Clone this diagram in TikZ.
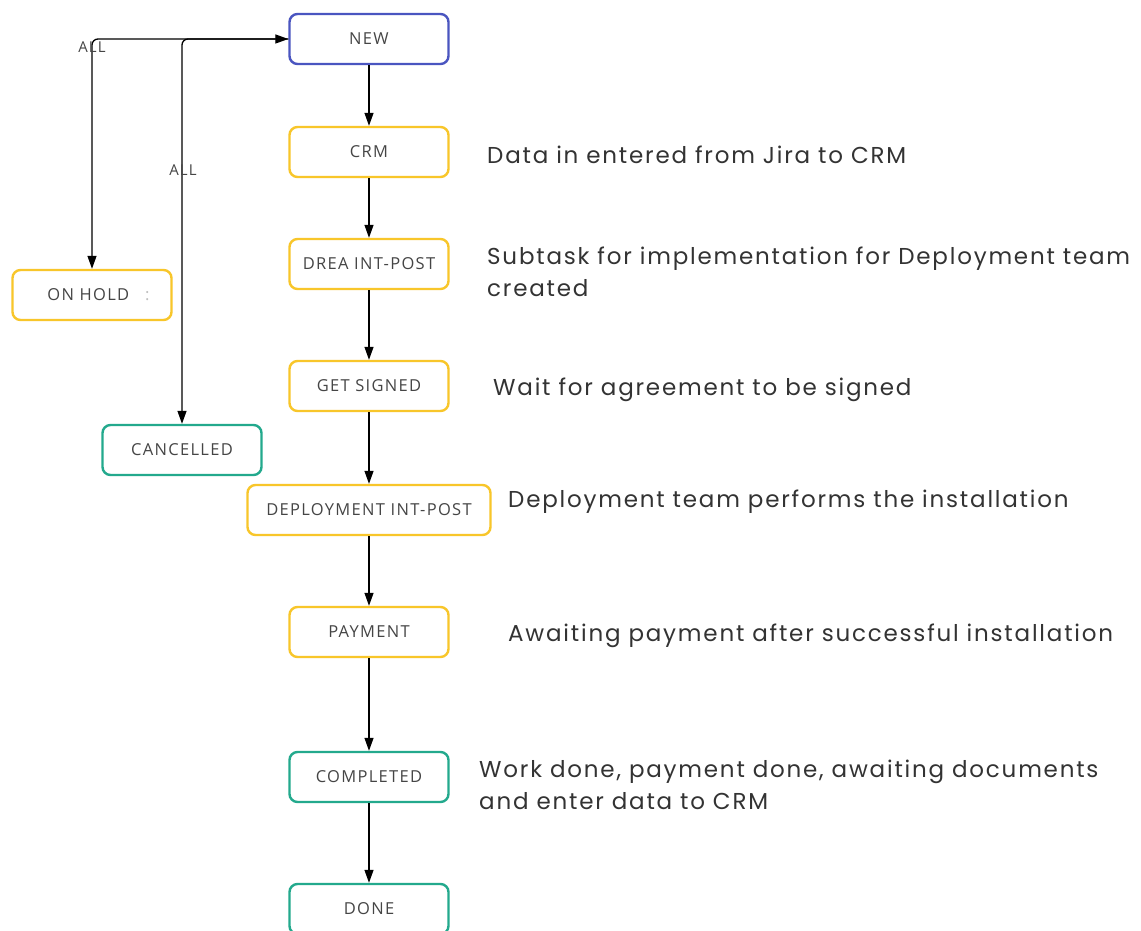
\documentclass[tikz,border=0pt]{standalone}
\usepackage{fontspec}
\setmainfont{Open Sans}[LetterSpace=8]
\newfontfamily\descfont{Poppins}[LetterSpace=7.8]
\usetikzlibrary{arrows.meta}
\definecolor{newblue}{HTML}{4A55C0}
\definecolor{stateyellow}{HTML}{F8C62A}
\definecolor{stateteal}{HTML}{23A98D}
\definecolor{statetext}{HTML}{454545}
\definecolor{desctext}{HTML}{333333}
\tikzset{
  state/.style={draw, line width=2.4pt, rounded corners=8pt, minimum width=159pt,
    minimum height=50pt, inner sep=0pt, text=statetext, font=\fontsize{16.5}{18}\selectfont},
  firststate/.style={state, draw=newblue},
  midstate/.style={state, draw=stateyellow},
  endstate/.style={state, draw=stateteal},
  desc/.style={anchor=west, align=left, text=desctext, inner sep=0pt,
    font=\descfont\fontsize{23}{32}\selectfont},
  flow/.style={draw=black, line width=1.3pt, -{Triangle[width=9pt,length=13pt]}},
  alllabel/.style={text=statetext, font=\fontsize{15}{16}\selectfont, inner sep=0pt}
}
\begin{document}
\begin{tikzpicture}[x=1pt,y=-1pt]
\useasboundingbox[fill=white] (0,0) rectangle (1141,931);

% main workflow column
\node[firststate] (new)      at (369,39)  {NEW};
\node[midstate]   (crm)      at (369,152) {CRM};
\node[midstate]   (drea)     at (369,264) {DREA INT-POST};
\node[midstate]   (signed)   at (369,386) {GET SIGNED};
\node[midstate, minimum width=243pt] (deploy) at (369,510) {DEPLOYMENT INT-POST};
\node[midstate]   (payment)  at (369,632) {PAYMENT};
\node[endstate]   (completed) at (369,777) {COMPLETED};
\node[endstate]   (done)     at (369,909) {DONE};

% side states
\node[midstate] (onhold) at (92,295) {\hspace{13pt}ON HOLD\hspace{16pt}\textcolor{black!25}{:}};
\node[endstate] (cancelled) at (182,450) {CANCELLED};

% transitions
\draw[flow] (new) -- (crm);
\draw[flow] (crm) -- (drea);
\draw[flow] (drea) -- (signed);
\draw[flow] (signed) -- (deploy);
\draw[flow] (deploy) -- (payment);
\draw[flow] (payment) -- (completed);
\draw[flow] (completed) -- (done);

\draw[flow, rounded corners=6pt] (new.west) -| (onhold.north);
\draw[flow, {Triangle[width=9pt,length=13pt]}-{Triangle[width=9pt,length=13pt]}, rounded corners=6pt]
  (cancelled.north) |- (new.west);

\node[alllabel] (allhold) at (92,47) {ALL};
\node[alllabel] (allcancel) at (183,170) {ALL};

% descriptions
\node[desc] (dcrm)     at (487,155) {Data in entered from Jira to CRM};
\node[desc] (ddrea)    at (487,272) {Subtask for implementation for Deployment team\\created};
\node[desc] (dsigned)  at (493,390) {Wait for agreement to be signed};
\node[desc] (ddeploy)  at (508,502) {Deployment team performs the installation};
\node[desc] (dpayment) at (508,636) {Awaiting payment after successful installation};
\node[desc] (dcomp)    at (479,785) {Work done, payment done, awaiting documents\\and enter data to CRM};
\end{tikzpicture}
\end{document}
